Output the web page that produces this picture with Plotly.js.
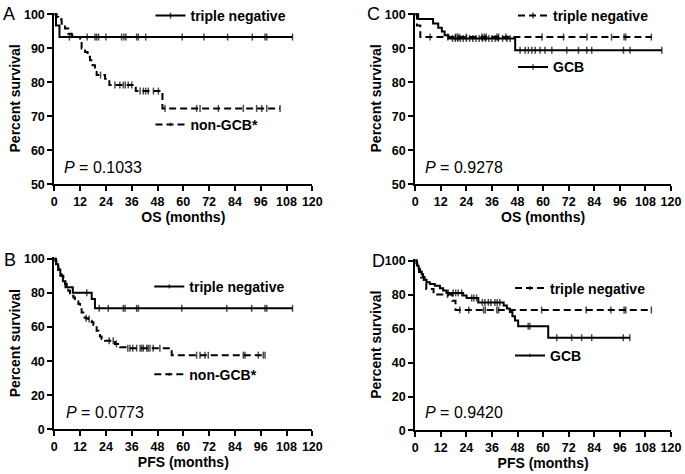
<!DOCTYPE html>
<html>
<head>
<meta charset="utf-8">
<script src="https://cdn.plot.ly/plotly-3.0.1.min.js"></script>
<style>html,body{margin:0;padding:0;background:#fff;}#chart{width:685px;height:474px;}</style>
</head>
<body>
<div id="chart"></div>
<script>
// ---------- data (months, percent survival) ----------
const xTicks = [0, 12, 24, 36, 48, 60, 72, 84, 96, 108, 120];
const osTicks = [50, 60, 70, 80, 90, 100];
const pfsTicks = [0, 20, 40, 60, 80, 100];

// Triple negative, OS (panels A and C)
const tnOS_t = [0, 0.8, 2.4];
const tnOS_s = [100, 96.7, 93.3];
const tnOS_c = [7.0, 15.3, 18.9, 19.7, 20.6, 24.0, 31.3, 32.4, 33.3, 38.3, 39.1, 42.5, 59.5, 69.6, 80.6, 92.1, 98.0, 98.8, 110.8];

// non-GCB*, OS (panel A)
const ngOS_t = [0, 1.1, 1.9, 3.4, 5.0, 6.5, 8.1, 10.4, 12.0, 12.7, 14.3, 15.5, 16.6, 17.8, 18.9, 19.7, 23.6, 25.6, 37.9, 50.3];
const ngOS_s = [100, 99.2, 98.5, 97.2, 95.8, 94.3, 93.8, 93.3, 92.4, 89.9, 88.9, 87.5, 86.5, 85.0, 83.6, 82.1, 81.0, 79.2, 77.4, 72.3];
const ngOS_c = [21.5, 28.2, 30.5, 32.1, 33.0, 34.4, 36.0, 39.9, 41.4, 42.5, 43.7, 46.1, 48.4, 51.5, 66.2, 67.8, 76.3, 87.9, 94.1, 96.5, 98.8, 105.0];

// GCB, OS (panel C)
const gcbOS_t = [0, 1.4, 8.4, 10.8, 12.5, 13.8, 15.6, 46.9];
const gcbOS_s = [100, 98.6, 97.3, 96.0, 94.9, 93.8, 92.9, 89.4];
const gcbOS_c = [17.5, 18.8, 20.0, 21.2, 22.5, 24.0, 25.5, 27.0, 28.5, 30.0, 31.5, 33.0, 34.5, 36.0, 37.5, 39.0, 41.0, 43.0, 44.5, 49.2, 51.6, 53.1, 54.7, 56.3, 58.6, 60.9, 64.1, 71.1, 76.6, 80.5, 82.8, 97.7, 100.8, 115.7];

// Triple negative, PFS (panels B and D)
const tnPFS_t = [0, 0.8, 1.8, 2.8, 4.0, 5.2, 8.6, 17.4, 18.9];
const tnPFS_s = [100, 96.7, 93.3, 90.0, 86.7, 83.3, 80.0, 76.4, 70.9];
const tnPFS_c = [15.1, 20.9, 25.1, 32.1, 32.9, 38.3, 39.1, 59.3, 80.2, 91.8, 98.0, 98.8, 110.8];

// non-GCB*, PFS (panel B)
const ngPFS_t = [0, 0.3, 1.0, 1.9, 2.6, 3.4, 4.2, 5.0, 5.8, 6.5, 7.3, 8.1, 8.9, 9.6, 10.4, 11.2, 12.0, 12.7, 13.5, 14.6, 15.8, 16.6, 17.4, 18.2, 18.9, 19.7, 20.5, 21.2, 22.0, 23.6, 28.2, 30.6, 33.7, 54.6];
const ngPFS_s = [100, 98.8, 96.5, 93.8, 91.8, 89.9, 87.5, 85.1, 83.2, 81.2, 79.7, 78.3, 77.3, 76.3, 74.9, 73.4, 71.0, 68.5, 65.6, 65.1, 64.7, 63.7, 62.7, 61.2, 59.8, 57.8, 55.9, 54.4, 53.0, 52.0, 50.1, 48.1, 47.6, 43.5];
const ngPFS_c = [14.8, 16.2, 25.5, 27.4, 28.9, 34.2, 35.2, 36.5, 38.3, 39.9, 40.6, 41.4, 43.0, 43.7, 44.5, 46.0, 49.1, 66.2, 67.8, 70.1, 71.6, 87.9, 88.7, 94.9, 97.2, 98.0];

// GCB, PFS (panel D)
const gcbPFS_t = [0, 0.5, 1.0, 1.6, 2.2, 3.0, 3.7, 4.4, 5.3, 6.9, 9.2, 11.6, 13.1, 14.7, 22.5, 24.1, 29.6, 41.5, 43.0, 44.4, 45.6, 46.8, 48.3, 62.4];
const gcbPFS_s = [100, 98.5, 96.9, 95.2, 93.6, 92.0, 90.4, 88.8, 87.2, 86.2, 85.2, 83.8, 82.4, 81.0, 79.5, 78.0, 75.4, 73.6, 71.8, 69.8, 67.2, 64.7, 61.4, 54.6];
const gcbPFS_c = [15.5, 17.8, 19.0, 20.2, 21.8, 26.5, 27.5, 28.8, 31.5, 32.7, 34.3, 35.5, 37.4, 38.5, 39.7, 53.0, 53.8, 66.4, 73.4, 78.1, 82.8, 97.6, 100.7];

const pValues = ['0.1033', '0.9278', '0.0773', '0.9420'];
const panelLetters = ['A', 'C', 'B', 'D'];

// ---------- build ----------
const FONT = 'Liberation Sans, Arial, Helvetica, sans-serif';

function km(t, s, c) {
  const pts = [];
  for (let i = 0; i < t.length; i++) pts.push({x: t[i], y: s[i], m: 0});
  for (const ct of c) {
    let v = s[0];
    for (let i = 0; i < t.length; i++) if (t[i] <= ct) v = s[i];
    pts.push({x: ct, y: v, m: 1});
  }
  pts.sort((a, b) => a.x - b.x || a.m - b.m);
  return {x: pts.map(p => p.x), y: pts.map(p => p.y), size: pts.map(p => p.m ? 5 : 0)};
}

function trace(name, t, s, c, dash, xa, ya, leg) {
  const d = km(t, s, c);
  return {
    type: 'scatter', mode: 'lines+markers', name: name,
    x: d.x, y: d.y, xaxis: xa, yaxis: ya, legend: leg,
    line: {shape: 'hv', color: '#000', width: 2, dash: dash},
    marker: {symbol: 'line-ns', size: d.size, color: '#000', line: {color: '#000', width: 1.5}},
    cliponaxis: false, hoverinfo: 'skip'
  };
}

const DASH = '7px,4px';
const data = [
  trace('triple negative', tnOS_t, tnOS_s, tnOS_c, 'solid', 'x', 'y', 'legend'),
  trace('non-GCB*', ngOS_t, ngOS_s, ngOS_c, DASH, 'x', 'y', 'legend2'),
  trace('triple negative', tnOS_t, tnOS_s, tnOS_c, DASH, 'x2', 'y2', 'legend3'),
  trace('GCB', gcbOS_t, gcbOS_s, gcbOS_c, 'solid', 'x2', 'y2', 'legend4'),
  trace('triple negative', tnPFS_t, tnPFS_s, tnPFS_c, 'solid', 'x3', 'y3', 'legend5'),
  trace('non-GCB*', ngPFS_t, ngPFS_s, ngPFS_c, DASH, 'x3', 'y3', 'legend6'),
  trace('triple negative', tnPFS_t, tnPFS_s, tnPFS_c, DASH, 'x4', 'y4', 'legend7'),
  trace('GCB', gcbPFS_t, gcbPFS_s, gcbPFS_c, 'solid', 'x4', 'y4', 'legend8')
];

const tickFont = {family: FONT, size: 12.5, color: '#000', weight: 'bold'};
const titleFont = {family: FONT, size: 14, color: '#000', weight: 'bold'};
const bold = v => '<b>' + v + '</b>';

function xax(domain, title, anchor) {
  return {domain: domain, anchor: anchor, range: [0, 120], tickvals: xTicks, ticktext: xTicks.map(bold),
    showline: true, linecolor: '#000', linewidth: 2, ticks: 'outside', ticklen: 5, tickwidth: 2, tickcolor: '#000',
    showgrid: false, zeroline: false, tickfont: tickFont, fixedrange: true,
    title: {text: title, font: titleFont, standoff: 1}};
}
function yax(domain, range, ticks, anchor) {
  return {domain: domain, anchor: anchor, range: range, tickvals: ticks, ticktext: ticks.map(bold),
    showline: true, linecolor: '#000', linewidth: 2, ticks: 'outside', ticklen: 5, tickwidth: 2, tickcolor: '#000',
    showgrid: false, zeroline: false, tickfont: tickFont, fixedrange: true, ticklabelstandoff: 0,
    title: {text: 'Percent survival', font: titleFont, standoff: 0}};
}

const W = 685, H = 474;
const xdL = [54.3 / W, 312.3 / W], xdR = [415.2 / W, 671 / W];
const ydT = [1 - 183 / H, 1 - 10.6 / H];
const ydB = [1 - 429.3 / H, 1 - 256 / H];
const ydD = [1 - 430.3 / H, 1 - 258 / H];

function leg(xpx, ypx) {
  return {x: xpx / W, y: 1 - ypx / H, xanchor: 'left', yanchor: 'middle', bgcolor: 'rgba(0,0,0,0)',
    borderwidth: 0, itemwidth: 30, font: {family: FONT, size: 14, color: '#000', weight: 'bold'}};
}

const pPos = [[62, 165.7], [423, 165.7], [63.5, 412.7], [423, 412.7]];
const letterPos = [[9, 12.5], [373.5, 12.5], [10, 259], [379, 260]];
const annotations = [];
for (let i = 0; i < 4; i++) {
  annotations.push({xref: 'paper', yref: 'paper', x: pPos[i][0] / W, y: 1 - pPos[i][1] / H, xanchor: 'left', yanchor: 'middle',
    showarrow: false, text: '<i>P</i> = ' + pValues[i], font: {family: FONT, size: 16, color: '#000'}});
  annotations.push({xref: 'paper', yref: 'paper', x: letterPos[i][0] / W, y: 1 - letterPos[i][1] / H, xanchor: 'center', yanchor: 'middle',
    showarrow: false, text: panelLetters[i], font: {family: FONT, size: 18, color: '#000'}});
}

const layout = {
  width: W, height: H, margin: {l: 0, r: 0, t: 0, b: 0},
  paper_bgcolor: '#fff', plot_bgcolor: 'rgba(0,0,0,0)', showlegend: true,
  font: {family: FONT, color: '#000'},
  xaxis: xax(xdL, 'OS (months)', 'y'), yaxis: yax(ydT, [50, 100.5], osTicks, 'x'),
  xaxis2: xax(xdR, 'OS (months)', 'y2'), yaxis2: yax(ydT, [50, 100.5], osTicks, 'x2'),
  xaxis3: xax(xdL, 'PFS (months)', 'y3'), yaxis3: yax(ydB, [0, 101], pfsTicks, 'x3'),
  xaxis4: xax(xdR, 'PFS (months)', 'y4'), yaxis4: yax(ydD, [0, 101], pfsTicks, 'x4'),
  legend: leg(150.5, 14), legend2: leg(150.5, 123.3),
  legend3: leg(513, 14), legend4: leg(513, 65.7),
  legend5: leg(149.3, 286), legend6: leg(149.3, 374.3),
  legend7: leg(510, 287.7), legend8: leg(510, 355.3),
  annotations: annotations
};

Plotly.newPlot('chart', data, layout, {displayModeBar: false, staticPlot: true});
</script>
</body>
</html>
